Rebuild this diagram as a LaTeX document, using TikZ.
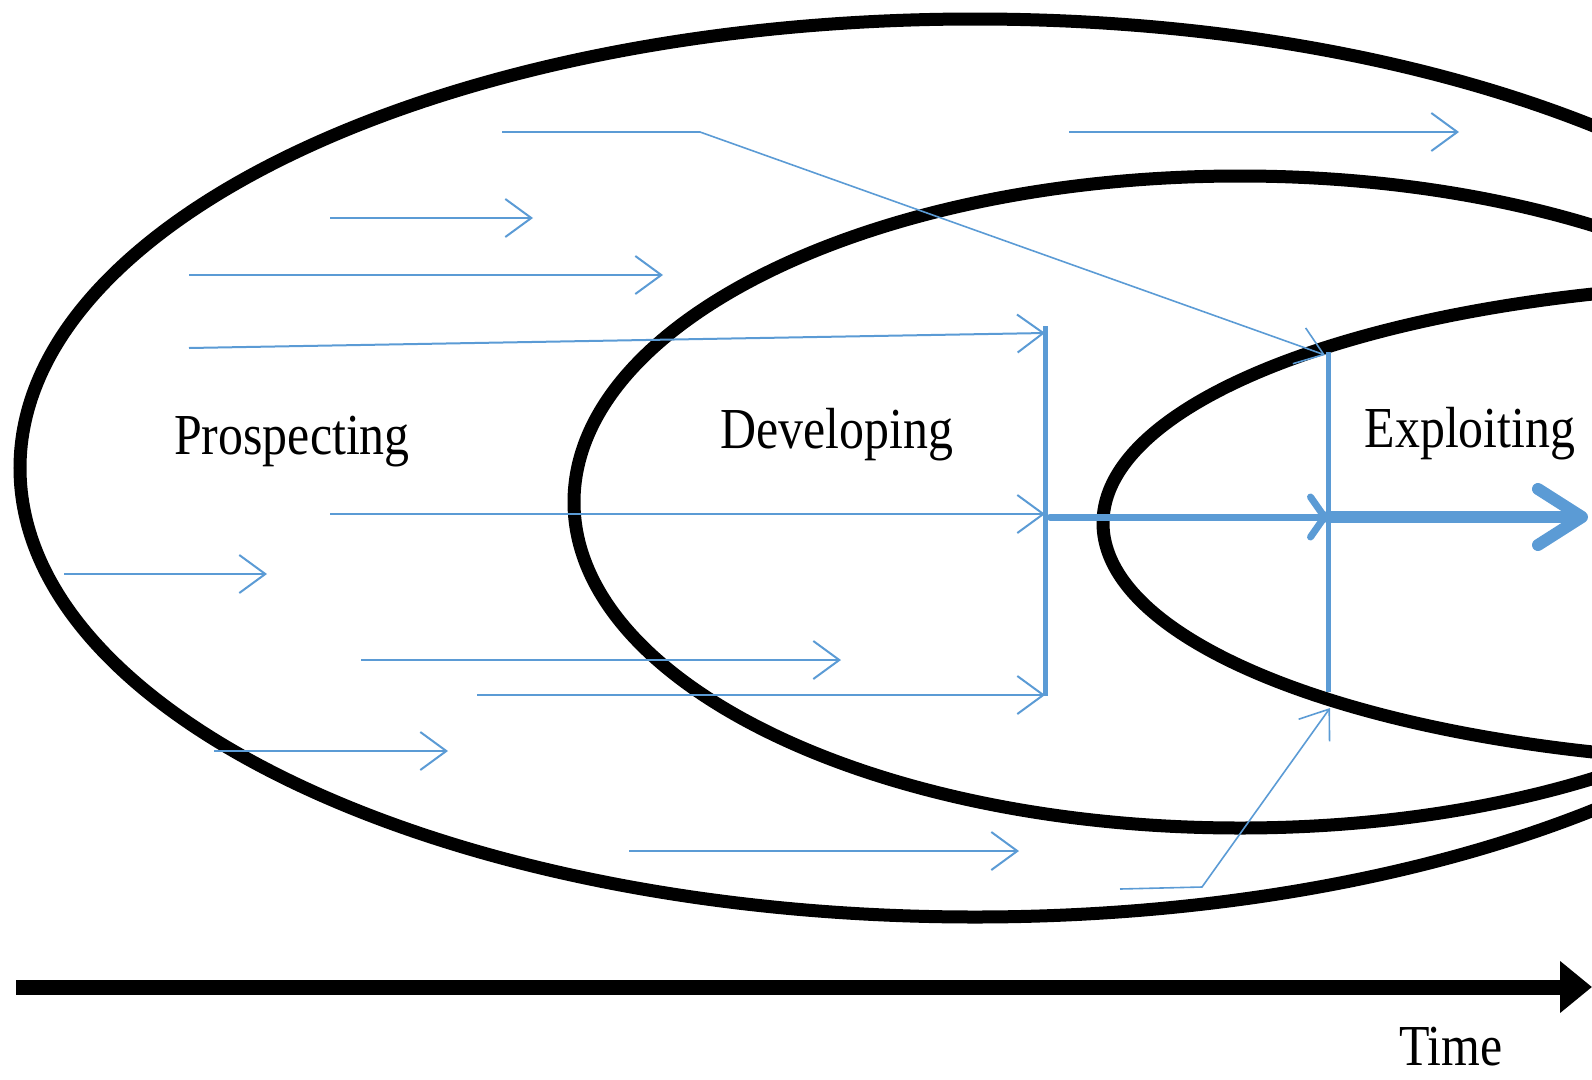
\documentclass[tikz,border=0pt]{standalone}
\usepackage{fontspec}
\newfontfamily\stagefont[FakeStretch=0.86]{Liberation Serif}
\usetikzlibrary{arrows.meta}
\definecolor{flowblue}{RGB}{91,155,213}
\begin{document}
\begin{tikzpicture}[x=1pt,y=-1pt,
  zone/.style={draw=black, line width=13pt},
  flow/.style={draw=flowblue, line width=2pt, -{Straight Barb[length=26pt,width=38pt]}},
  gate/.style={draw=flowblue, line width=5pt},
  stage/.style={font={\stagefont\fontsize{58}{60}\selectfont}, anchor=base, inner sep=0pt},
]
\useasboundingbox (0,0) rectangle (1592,1079);
\clip (0,0) rectangle (1592,1079);

% nested stages
\draw[zone] (975,468) ellipse [x radius=955pt, y radius=449pt];
\draw[zone] (1240,502) ellipse [x radius=666pt, y radius=326pt];
\draw[zone] (1803,523) ellipse [x radius=700pt, y radius=240pt];

% end points of the flows
\coordinate (a1s) at (502,132);  \coordinate (a1k) at (700,132);  \coordinate (a1e) at (1325,355);
\coordinate (a2s) at (1069,132); \coordinate (a2e) at (1459,132);
\coordinate (a3s) at (330,218);  \coordinate (a3e) at (533,218);
\coordinate (a4s) at (189,275);  \coordinate (a4e) at (663,275);
\coordinate (a5s) at (189,348);  \coordinate (a5e) at (1045,333);
\coordinate (a6s) at (330,514);  \coordinate (a6e) at (1045,514);
\coordinate (a7s) at (64,574);   \coordinate (a7e) at (267,574);
\coordinate (a8s) at (361,660);  \coordinate (a8e) at (841,660);
\coordinate (a9s) at (477,695);  \coordinate (a9e) at (1045,695);
\coordinate (a10s) at (214,751); \coordinate (a10e) at (448,751);
\coordinate (a11s) at (629,851); \coordinate (a11e) at (1019,851);
\coordinate (a12s) at (1120,889); \coordinate (a12k) at (1202,887); \coordinate (a12e) at (1330,708);

% gates
\coordinate (g1t) at (1045,326); \coordinate (g1b) at (1045,696);
\coordinate (g2t) at (1328,352); \coordinate (g2b) at (1328,692);

% main stream
\coordinate (m1) at (1050,517); \coordinate (m2) at (1328,517); \coordinate (m3) at (1588,517);

% time axis
\coordinate (t0) at (16,987); \coordinate (t1) at (1592,987);

\draw[gate] (g1t) -- (g1b);
\draw[gate] (g2t) -- (g2b);

\draw[flow, line width=1.6pt] (a1s) -- (a1k) -- (a1e);
\draw[flow] (a2s) -- (a2e);
\draw[flow] (a3s) -- (a3e);
\draw[flow] (a4s) -- (a4e);
\draw[flow] (a5s) -- (a5e);
\draw[flow] (a6s) -- (a6e);
\draw[flow] (a7s) -- (a7e);
\draw[flow] (a8s) -- (a8e);
\draw[flow] (a9s) -- (a9e);
\draw[flow] (a10s) -- (a10e);
\draw[flow] (a11s) -- (a11e);
\draw[flow, line width=1.6pt] (a12s) -- (a12k) -- (a12e);

\draw[flowblue, line width=7pt, line cap=round,
      -{Straight Barb[length=14pt,width=40pt,round]}] (m1) -- (m2);
\draw[flowblue, line width=12pt, line cap=round,
      -{Straight Barb[length=44pt,width=56pt,round]}] (m2) -- (m3);

\draw[line width=15pt, -{Triangle[length=32pt,width=50pt]}] (t0) -- (t1);

\node[stage] (prosp) at (292,454) {Prospecting};
\node[stage] (devel) at (837,448) {Developing};
\node[stage] (expl) at (1470,447) {Exploiting};
\node[stage] (time) at (1451,1065) {Time};
\end{tikzpicture}
\end{document}
